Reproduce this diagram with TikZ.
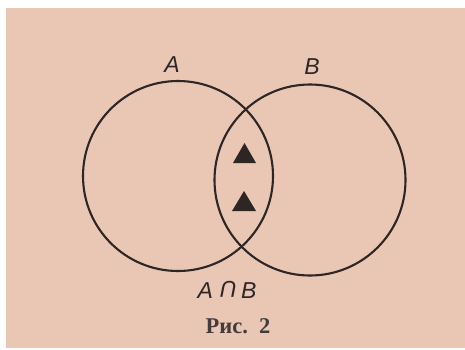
\documentclass[tikz,border=0pt]{standalone}
\usepackage{fontspec}
\usepackage{graphicx}
\setmainfont{Liberation Serif}
\newfontfamily\lblfont{Liberation Sans}
\definecolor{paper}{RGB}{234,198,180}
\definecolor{ink}{RGB}{45,38,36}
\tikzset{
  setcircle/.style={draw=ink, line width=2.1pt},
  mark tri/.style={fill=ink, draw=none},
  setlabel/.style={text=ink, font=\lblfont\itshape\fontsize{23}{23}\selectfont, inner sep=0pt},
  caption/.style={text=ink!90, font=\bfseries\fontsize{22.5}{22.5}\selectfont, inner sep=0pt}
}
\begin{document}
\begin{tikzpicture}[x=1pt,y=-1pt]
\useasboundingbox (0,0) rectangle (465,349);
\fill[white] (0,0) rectangle (465,349);
\fill[paper] (6,8) rectangle (465,348);
\draw[setcircle] (178,176) circle (95);
\draw[setcircle] (310,180) circle (95.5);
\fill[mark tri] (233,163) -- (256,163) -- (244.5,143) -- cycle;
\fill[mark tri] (232,211) -- (256,211) -- (244,191) -- cycle;
\node[setlabel] (la) at (172,65) {A};
\node[setlabel] (lb) at (312,67) {B};
\node[setlabel] (lab) at (227,290) {A\,\,\raisebox{0.72em}{\rotatebox{180}{U}}\,B};
\node[caption] (cap) at (238,326) {Рис.\ \ 2};
\end{tikzpicture}
\end{document}
